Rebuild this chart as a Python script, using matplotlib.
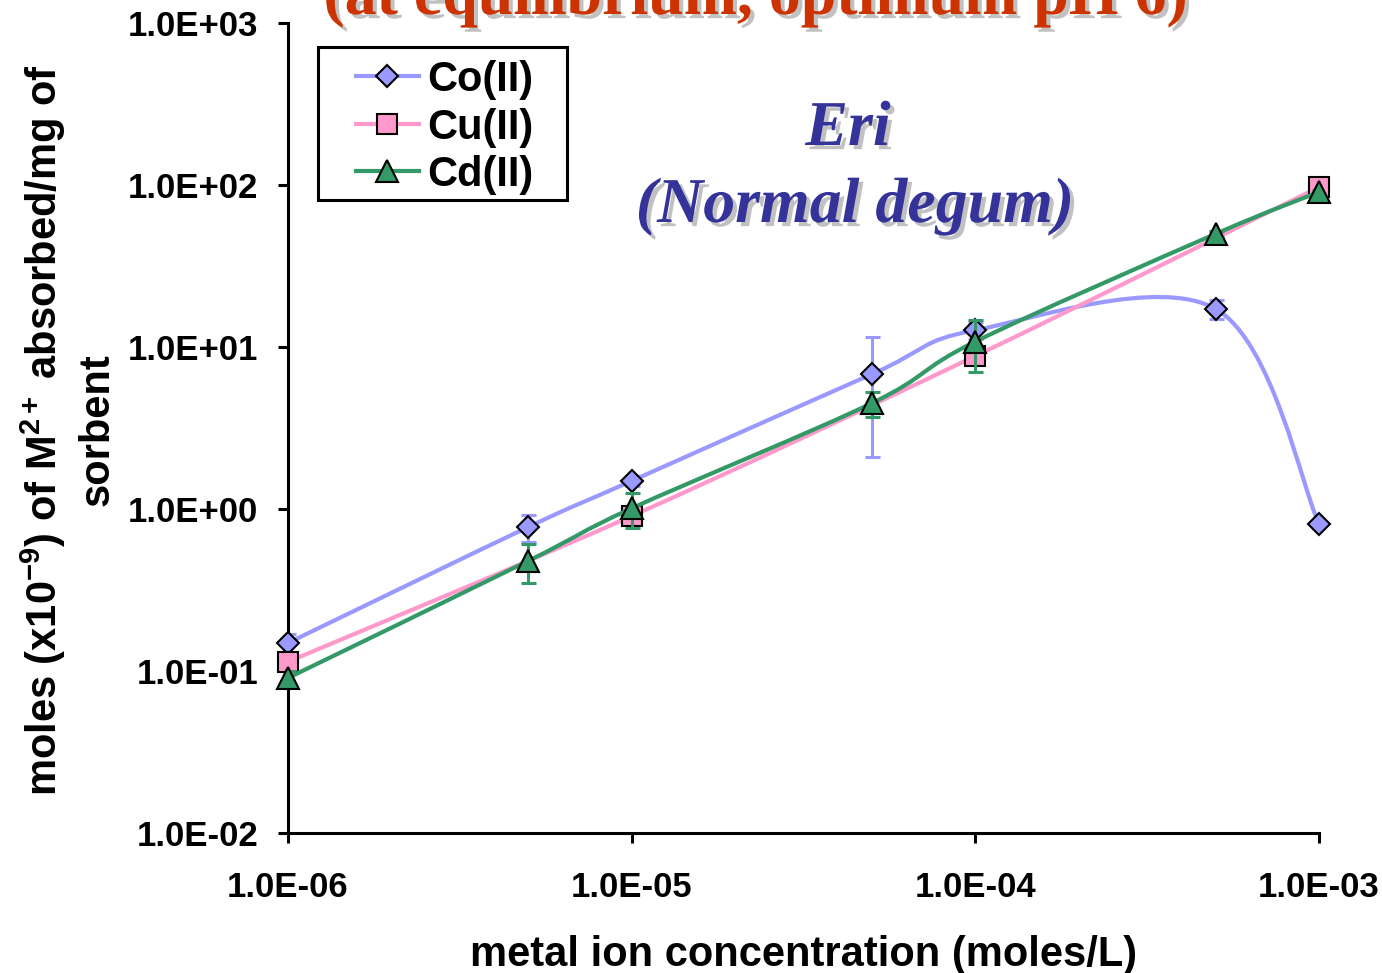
import numpy as np
import matplotlib.pyplot as plt
import matplotlib.patheffects as pe
from matplotlib.path import Path
from matplotlib.patches import PathPatch, Rectangle
from matplotlib.lines import Line2D

plt.rcParams["font.family"] = ["Liberation Sans", "DejaVu Sans"]
plt.rcParams["font.weight"] = "bold"
plt.rcParams["mathtext.fontset"] = "custom"
plt.rcParams["mathtext.rm"] = "Liberation Sans:bold"
plt.rcParams["mathtext.it"] = "Liberation Sans:bold"
plt.rcParams["mathtext.bf"] = "Liberation Sans:bold"

# metal ion concentration (moles/L)
conc = [1e-6, 5e-6, 1e-5, 5e-5, 1e-4, 5e-4, 1e-3]
conc_cu = [1e-6, 1e-5, 1e-4, 1e-3]

# moles (x1e-9) absorbed / mg sorbent
co = [0.149, 0.774, 1.49, 6.8, 12.7, 17.2, 0.81]
cu = [0.114, 0.905, 8.8, 97.0]
cd = [0.0906, 0.478, 1.01, 4.5, 10.8, 49.9, 90.6]

co_err = [0.02, 0.15, 0.1, 4.7, 1.5, 2.3, 0.05]
cu_err = [0.01, 0.08, 1.0, 3.0]
cd_err = [0.01, 0.13, 0.25, 0.8, 3.8, 2.0, 3.0]

series = [
    ("Co(II)", conc, co, co_err, "#9999FF", "D", 11),
    ("Cu(II)", conc_cu, cu, cu_err, "#FF99CC", "s", 14),
    ("Cd(II)", conc, cd, cd_err, "#339966", "^", 15.5),
]


def smooth_path(xs, ys):
    # Excel-like smoothed line: cubic bezier through the points, in log space
    p = np.column_stack([np.log10(xs), np.log10(ys)])
    n = len(p)
    verts = [p[0]]
    codes = [Path.MOVETO]
    for i in range(n - 1):
        p0 = p[i - 1] if i > 0 else p[i]
        p3 = p[i + 2] if i + 2 < n else p[i + 1]
        c1 = p[i] + (p[i + 1] - p0) / 6
        c2 = p[i + 1] - (p3 - p[i]) / 6
        verts += [c1, c2, p[i + 1]]
        codes += [Path.CURVE4] * 3
    return Path(10 ** np.array(verts), codes)


fig = plt.figure(figsize=(13.82, 9.73), dpi=100)
ax = fig.add_axes([288 / 1382, 140 / 973, 1031 / 1382, 810 / 973])
ax.set_xscale("log")
ax.set_yscale("log")
ax.set_xlim(1e-6, 1e-3)
ax.set_ylim(1e-2, 1e3)

handles = []
for i, (name, xs, vals, err, col, mk, ms) in enumerate(series):
    z = 3 + i
    ax.errorbar(xs, vals, yerr=err, fmt="none", ecolor=col, elinewidth=2.2,
                capsize=5.4, capthick=2.2, zorder=z)
    ax.add_patch(PathPatch(smooth_path(xs, vals), facecolor="none",
                           edgecolor=col, lw=3, zorder=z))
    ax.plot(xs, vals, ls="none", marker=mk, ms=ms, mfc=col, mec="black",
            mew=1.5, zorder=z + 0.5, clip_on=False)
    handles.append(Line2D([], [], color=col, lw=3, marker=mk, ms=ms,
                          mfc=col, mec="black", mew=1.5))

ax.set_xticks([1e-6, 1e-5, 1e-4, 1e-3])
ax.set_xticklabels(["1.0E-06", "1.0E-05", "1.0E-04", "1.0E-03"])
ax.set_yticks([1e-2, 1e-1, 1e0, 1e1, 1e2, 1e3])
ax.set_yticklabels(["1.0E-02", "1.0E-01", "1.0E+00", "1.0E+01",
                    "1.0E+02", "1.0E+03"])
ax.minorticks_off()
ax.tick_params(axis="both", labelsize=25, width=2.2, length=7.5,
               direction="out")
ax.tick_params(axis="x", pad=20)
ax.tick_params(axis="y", pad=14)
for s in ["top", "right"]:
    ax.spines[s].set_visible(False)
for s in ["left", "bottom"]:
    ax.spines[s].set_linewidth(2.2)

ax.set_xlabel("metal ion concentration (moles/L)", fontsize=30,
              fontweight="bold", labelpad=22)
fig.text(68 / 1382, 1 - 430 / 973,
         "moles (x10$^{-9}$) of M$^{2+}$ absorbed/mg of\nsorbent",
         rotation=90, ha="center", va="center", fontsize=30,
         fontweight="bold", linespacing=1.3)

leg = fig.legend(handles, ["Co(II)", "Cu(II)", "Cd(II)"], loc="upper left",
                 bbox_to_anchor=(356 / 1382, 1 - 60 / 973), fontsize=30,
                 frameon=False, handlelength=1.5, labelspacing=0.18,
                 handletextpad=0.2, borderpad=0, borderaxespad=0)
fig.add_artist(Rectangle((318 / 1382, 1 - 200 / 973), 249 / 1382, 153 / 973,
                         transform=fig.transFigure, fill=False,
                         edgecolor="black", lw=2.2, zorder=10))

shadow = [pe.withSimplePatchShadow(offset=(3, -3), shadow_rgbFace="#777777",
                                   alpha=0.45)]
fig.text(848 / 1382, 1 - 145 / 973, "Eri", fontsize=46, color="#333399",
         family="Liberation Serif", style="italic", fontweight="bold",
         ha="center", va="baseline", path_effects=shadow)
fig.text(855 / 1382, 1 - 222 / 973, "(Normal degum)", fontsize=46,
         color="#333399", family="Liberation Serif", style="italic",
         fontweight="bold", ha="center", va="baseline", path_effects=shadow)
fig.text(755 / 1382, 1 - 14 / 973, "(at equilibrium, optimum pH 6)",
         fontsize=46, color="#CC3300", family="Liberation Serif",
         fontweight="bold", ha="center", va="baseline", path_effects=shadow)

fig.savefig("out.png", dpi=100)
